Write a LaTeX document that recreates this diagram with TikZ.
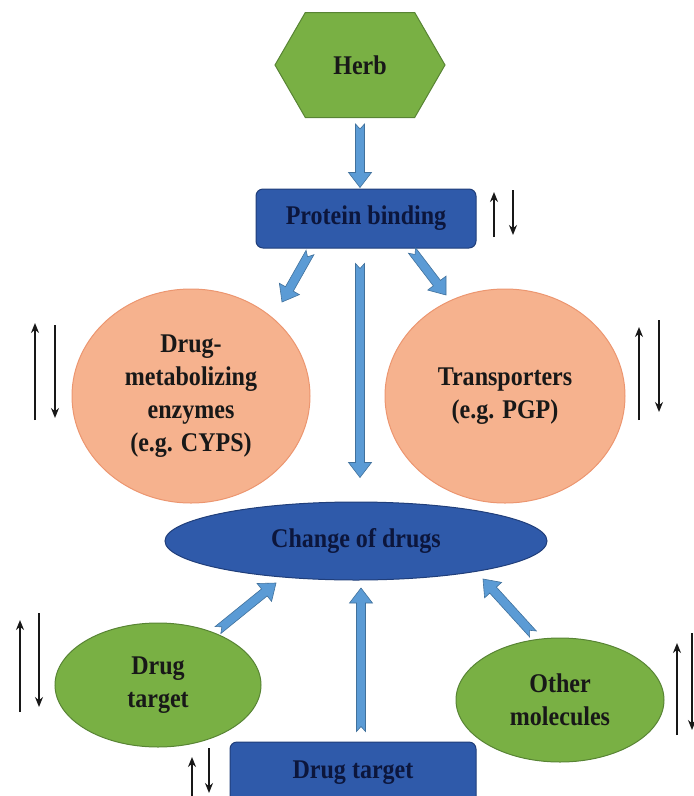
\documentclass[tikz,border=0pt]{standalone}
\usepackage{fontspec}
\setmainfont{Liberation Serif}[FakeStretch=0.89]
\usetikzlibrary{shapes.geometric,shapes.symbols,calc,arrows.meta}
\definecolor{grfill}{RGB}{121,176,68}
\definecolor{grline}{RGB}{88,132,52}
\definecolor{safill}{RGB}{246,178,142}
\definecolor{saline}{RGB}{236,150,112}
\definecolor{blfill}{RGB}{47,90,170}
\definecolor{blline}{RGB}{32,62,122}
\definecolor{arfill}{RGB}{91,155,213}
\definecolor{arline}{RGB}{65,113,156}
\definecolor{navytxt}{RGB}{12,22,60}
\definecolor{darktxt}{RGB}{24,24,24}
\newcommand\blkarrow[2]{%
  \path ($(#2)!15pt!(#1)$) coordinate (bhd);
  \draw[barrow] ($(#1)!4.5pt!90:(#2)$) -- ($(bhd)!4.5pt!-90:(#1)$) -- ($(bhd)!11.5pt!-90:(#1)$) -- (#2) -- ($(bhd)!11.5pt!90:(#1)$) -- ($(bhd)!4.5pt!90:(#1)$) -- ($(#1)!4.5pt!-90:(#2)$) -- ($(#1)!5pt!(#2)$) -- cycle;}
\begin{document}
\begin{tikzpicture}[x=1pt,y=-1pt,
  lbl/.style={font=\fontsize{27}{33}\selectfont\bfseries, align=center, text=darktxt},
  greenshape/.style={fill=grfill, draw=grline, line width=1pt, lbl},
  salshape/.style={fill=safill, draw=saline, line width=1pt, lbl},
  blueshape/.style={fill=blfill, draw=blline, line width=1pt, lbl, text=navytxt},
  barrow/.style={fill=arfill, draw=arline, line width=0.6pt, line join=miter},
  updown/.style={draw=darktxt, line width=1.9pt, -{Stealth[length=10pt,width=8pt]}}]
\useasboundingbox (0,0) rectangle (694,796);
% nodes
\node[signal, signal to=east and west, signal pointer angle=120, minimum width=170pt, minimum height=105pt, inner sep=0pt, greenshape] (herb) at (360,65) {Herb};
\node[rectangle, rounded corners=7pt, minimum width=220pt, minimum height=59pt, blueshape] (prot) at (366,218.5) {Protein binding};
\node[ellipse, minimum width=238pt, minimum height=214pt, salshape] (dme) at (191,396) {Drug-\\metabolizing\\enzymes\\(e.g. CYPS)};
\node[ellipse, minimum width=240pt, minimum height=214pt, salshape] (trans) at (505,396) {Transporters\\(e.g. PGP)};
\node[ellipse, minimum width=382pt, minimum height=78pt, blueshape] (chg) at (356,541) {Change of drugs};
\node[ellipse, minimum width=206pt, minimum height=124pt, greenshape] (dt) at (158,685) {Drug\\target};
\node[ellipse, minimum width=208pt, minimum height=124pt, greenshape] (om) at (560,700) {Other\\molecules};
\node[rectangle, rounded corners=7pt, minimum width=246pt, minimum height=62pt, blueshape] (dtb) at (353,773) {Drug target};
% connector end points
\coordinate (a1t) at ($(herb.south)+(0,6)$);
\coordinate (a1h) at ($(prot.north)+(-6,-1)$);
\coordinate (a2t) at ($(prot.south)+(-56,4)$);
\coordinate (a2h) at ($(dme.center)+(91,-94)$);
\coordinate (a3t) at ($(prot.south)+(-6,15)$);
\coordinate (a3h) at ($(chg.north)+(4,-24)$);
\coordinate (a4t) at ($(prot.south)+(46,2)$);
\coordinate (a4h) at ($(trans.center)+(-59,-101)$);
\coordinate (a5t) at ($(dt.center)+(60,-55)$);
\coordinate (a5h) at ($(chg.center)+(-80,42)$);
\coordinate (a6t) at ($(dtb.north)+(8,-10)$);
\coordinate (a6h) at ($(chg.center)+(5,47)$);
\coordinate (a7t) at ($(om.center)+(-27,-66)$);
\coordinate (a7h) at ($(chg.center)+(127,38)$);
% block arrows
\blkarrow{a1t}{a1h}
\blkarrow{a2t}{a2h}
\blkarrow{a3t}{a3h}
\blkarrow{a4t}{a4h}
\blkarrow{a5t}{a5h}
\blkarrow{a6t}{a6h}
\blkarrow{a7t}{a7h}
% up/down indicator arrows
\draw[updown] (494,237) -- (494,192);
\draw[updown] (513,190) -- (513,235);
\draw[updown] (35,420) -- (35,323);
\draw[updown] (55,325) -- (55,418);
\draw[updown] (639,420) -- (639,327);
\draw[updown] (659,320) -- (659,412);
\draw[updown] (20,712) -- (20,620);
\draw[updown] (39,613) -- (39,707);
\draw[updown] (677,735) -- (677,643);
\draw[updown] (692,633) -- (692,730);
\draw[updown] (192,800) -- (192,757);
\draw[updown] (209,748) -- (209,793);
\end{tikzpicture}
\end{document}
